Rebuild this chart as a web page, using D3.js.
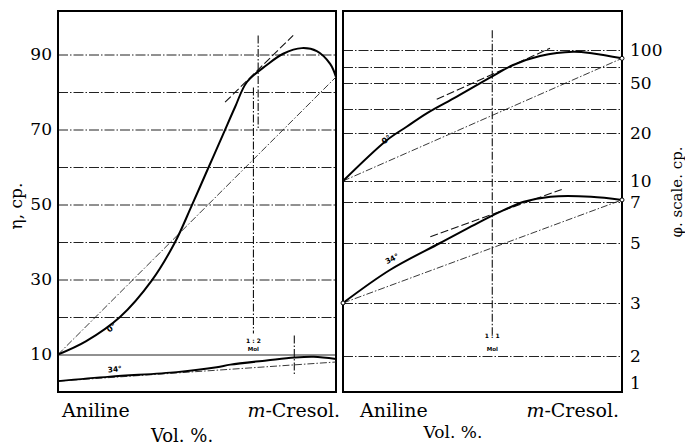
<!DOCTYPE html>
<html>
<head>
<meta charset="utf-8">
<script src="https://cdn.jsdelivr.net/npm/d3@7"></script>
<style>
body { margin: 0; background: #fff; }
text { font-family: "DejaVu Serif", serif; fill: #000; }
</style>
</head>
<body>
<div id="chart"></div>
<script>
// grid + tick values
var etaGrid = [10, 20, 30, 40, 50, 60, 70, 80, 90];
var etaTicks = [10, 30, 50, 70, 90];
var phiGrid = [2, 3, 5, 7, 10, 20, 30, 50, 70, 100];
var phiTicks = [1, 2, 3, 5, 7, 10, 20, 50, 100];

// left panel, eta (cp) vs fraction m-cresol
var eta0 = [[0, 10], [0.1, 13.5], [0.223, 20], [0.337, 29.7], [0.42, 39.8], [0.481, 49.7],
    [0.535, 58.8], [0.595, 68.9], [0.637, 76], [0.679, 82.6], [0.751, 87.2], [0.81, 90.2],
    [0.877, 91.7], [0.931, 90.9], [0.979, 87.5], [1, 84]];
var eta34 = [[0, 2.9], [0.187, 4.1], [0.427, 5.3], [0.571, 6.6], [0.62, 7.3], [0.75, 8.4],
    [0.85, 9.2], [0.92, 9.4], [1, 8.8]];
var etaMix = [[[0, 10], [1, 84]], [[0, 2.9], [1, 8.0]]];
var etaTangent = [[[0.601, 77.3], [0.846, 95.1]]];
var etaMarks = [[0.703, 81.2, 15.6], [0.72, 95.1, 70], [0.85, 15.1, 4.4]];

// right panel, phi scale
var phi0 = [[0, 10], [0.157, 18.5], [0.228, 22.6], [0.3, 28.2], [0.408, 39.5], [0.533, 57.9],
    [0.61, 73.5], [0.706, 89.4], [0.825, 97], [0.897, 94], [1, 85.3]];
var phi34 = [[0, 3], [0.168, 4.1], [0.348, 5.0], [0.503, 6.12], [0.576, 6.6], [0.648, 7.04],
    [0.744, 7.76], [0.889, 7.76], [1, 7.3]];
var phiMix = [[[0, 10], [1, 85.3]], [[0, 3], [1, 7.3]]];
var phiTangent = [[[0.336, 37.5], [0.742, 103]], [[0.313, 5.31], [0.784, 8.8]]];
var phiMarks = [[0.535, 135, 2.4]];

var svgWidth = 685;
var svgHeight = 446;
var plotTop = 11, plotBottom = 392;

var svg = d3.select("#chart")
    .append("svg")
    .attr("width", svgWidth)
    .attr("height", svgHeight);

var xLeft = d3.scaleLinear().domain([0, 1]).range([58, 336]);
var xRight = d3.scaleLinear().domain([0, 1]).range([343, 622]);
var yEta = d3.scaleLinear().domain([0, 101.6]).range([plotBottom, plotTop]);
// the phi scale is neither linear nor log, so piecewise
var yPhi = d3.scaleLinear()
    .domain([1, 2, 3, 5, 7, 10, 20, 30, 50, 70, 100])
    .range([383, 356, 303, 243, 202, 181, 133, 109, 83, 67, 50]);

var gridDash = "10,2,1.5,2";

function drawPanel(x, y, grid, solidAt, side, ticks) {
    var w = x.range()[1] - x.range()[0];
    var g = svg.append("g");

    var gridAxis = d3.axisLeft(y).tickValues(grid).tickSize(-w).tickFormat("");
    var gg = g.append("g")
        .attr("transform", `translate(${x.range()[0]},0)`)
        .call(gridAxis);
    gg.select(".domain").remove();
    gg.selectAll("line")
        .attr("stroke", "#222")
        .attr("stroke-width", 1)
        .attr("stroke-dasharray", d => d == solidAt ? null : gridDash);

    var ax = side == "left"
        ? d3.axisLeft(y).tickValues(ticks).tickSize(0).tickPadding(6)
        : d3.axisRight(y).tickValues(ticks).tickSize(0).tickPadding(8);
    var ag = g.append("g")
        .attr("transform", `translate(${side == "left" ? x.range()[0] : x.range()[1]},0)`)
        .call(ax);
    ag.select(".domain").remove();
    ag.selectAll("text")
        .style("font-family", "DejaVu Serif")
        .style("font-size", "17px")
        .attr("fill", "#000");

    g.append("rect")
        .attr("x", x.range()[0])
        .attr("y", plotTop)
        .attr("width", w)
        .attr("height", plotBottom - plotTop)
        .attr("fill", "none")
        .attr("stroke", "#000")
        .attr("stroke-width", 2);
}

function drawCurves(x, y, curves, mix, tangents, marks) {
    var smooth = d3.line().x(d => x(d[0])).y(d => y(d[1])).curve(d3.curveCatmullRom.alpha(0.5));
    var straight = d3.line().x(d => x(d[0])).y(d => y(d[1]));

    mix.forEach(function(m) {
        svg.append("path").attr("d", straight(m))
            .attr("fill", "none").attr("stroke", "#222")
            .attr("stroke-width", 0.9).attr("stroke-dasharray", "7,2,1.5,2");
    });
    tangents.forEach(function(t) {
        svg.append("path").attr("d", straight(t))
            .attr("fill", "none").attr("stroke", "#111")
            .attr("stroke-width", 1.1).attr("stroke-dasharray", "8,3");
    });
    marks.forEach(function(m) {
        svg.append("line")
            .attr("x1", x(m[0])).attr("x2", x(m[0]))
            .attr("y1", y(m[1])).attr("y2", y(m[2]))
            .attr("stroke", "#111").attr("stroke-width", 1.1)
            .attr("stroke-dasharray", "8,2,1.5,2");
    });
    curves.forEach(function(c) {
        svg.append("path").attr("d", smooth(c))
            .attr("fill", "none").attr("stroke", "#000")
            .attr("stroke-width", 2);
    });
}

drawPanel(xLeft, yEta, etaGrid, 10, "left", etaTicks);
drawPanel(xRight, yPhi, phiGrid, null, "right", phiTicks);

drawCurves(xLeft, yEta, [eta0, eta34], etaMix, etaTangent, etaMarks);
drawCurves(xRight, yPhi, [phi0, phi34], phiMix, phiTangent, phiMarks);

// end points on the phi curves
svg.selectAll("circle.end")
    .data([phi0[phi0.length - 1], phi34[phi34.length - 1], phi34[0]])
    .enter()
    .append("circle")
    .attr("cx", d => xRight(d[0]))
    .attr("cy", d => yPhi(d[1]))
    .attr("r", 2)
    .attr("fill", "#fff")
    .attr("stroke", "#000")
    .attr("stroke-width", 1);

// small curve labels
function smallText(x, y, px, val, txt, rot, size) {
    svg.append("text")
        .attr("transform", `translate(${x(px)},${y(val)}) rotate(${rot})`)
        .attr("text-anchor", "middle")
        .style("font-size", size + "px")
        .style("font-family", "DejaVu Sans")
        .style("font-weight", "bold")
        .text(txt);
}
smallText(xLeft, yEta, 0.198, 16.6, "0°", -38, 8);
smallText(xLeft, yEta, 0.205, 5.4, "34°", -6, 7.5);
smallText(xRight, yPhi, 0.161, 18.2, "0°", -35, 8);
smallText(xRight, yPhi, 0.18, 4.4, "34°", -28, 7.5);
smallText(xLeft, yEta, 0.703, 13.2, "1 : 2", 0, 6);
smallText(xLeft, yEta, 0.703, 11.0, "Mol", 0, 5.5);
smallText(xRight, yPhi, 0.535, 2.34, "1 : 1", 0, 6);
smallText(xRight, yPhi, 0.535, 2.1, "Mol", 0, 5.5);

// component names under each panel
[xLeft, xRight].forEach(function(x) {
    svg.append("text")
        .attr("x", x.range()[0] + (x === xLeft ? 4 : 17))
        .attr("y", 417)
        .style("font-size", "19px")
        .text("Aniline");
    var t = svg.append("text")
        .attr("x", x.range()[1] + (x === xLeft ? 4 : -3))
        .attr("y", 417)
        .attr("text-anchor", "end")
        .style("font-size", "19px");
    t.append("tspan").style("font-style", "italic").text("m");
    t.append("tspan").text("-Cresol.");
});

svg.append("text")
    .attr("x", 182).attr("y", 442)
    .attr("text-anchor", "middle")
    .style("font-size", "18px")
    .text("Vol. %.");
svg.append("text")
    .attr("x", 453).attr("y", 438)
    .attr("text-anchor", "middle")
    .style("font-size", "17px")
    .text("Vol. %.");

// y axis titles
svg.append("text")
    .attr("transform", "translate(22,206) rotate(-90)")
    .attr("text-anchor", "middle")
    .style("font-size", "17px")
    .text("η, cp.");
svg.append("text")
    .attr("transform", "translate(682,192) rotate(-90)")
    .attr("text-anchor", "middle")
    .style("font-size", "15px")
    .text("φ. scale. cp.");
</script>
</body>
</html>
